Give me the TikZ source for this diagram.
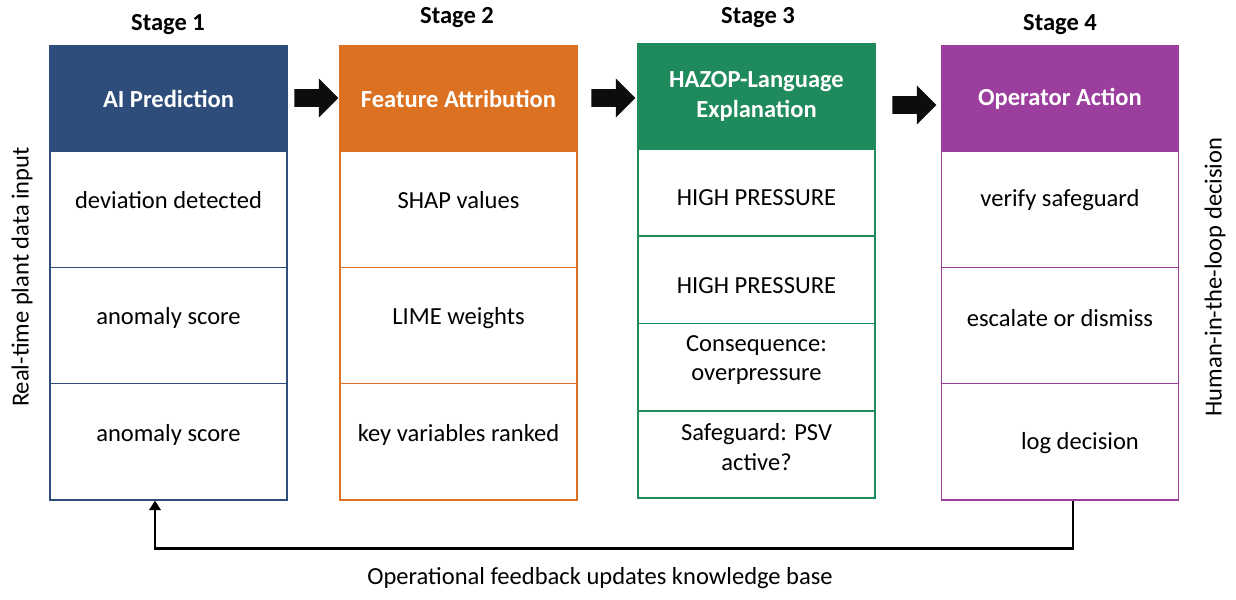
\documentclass[tikz,border=0pt]{standalone}
\usepackage{fontspec}
\setmainfont{Carlito}
\usetikzlibrary{shapes.arrows,arrows.meta}
\definecolor{predblue}{HTML}{2E4D7B}
\definecolor{attrorange}{HTML}{DD7122}
\definecolor{hazopgreen}{HTML}{1F8A5B}
\definecolor{actpurple}{HTML}{9B3E9E}

\begin{document}
\begin{tikzpicture}[x=0.75pt, y=-0.75pt, font=\fontsize{18.4}{22}\selectfont,
  head/.style={draw=#1, fill=#1, text=white, font=\fontsize{18.4}{22}\selectfont\bfseries,
    align=center, inner sep=0pt, line width=1.1pt, minimum width=177.75pt, minimum height=78.75pt},
  cell/.style={draw=#1, inner sep=0pt, line width=1.1pt, minimum width=177.75pt, minimum height=87.2pt},
  cellthin/.style={cell=#1, minimum height=65.4pt},
  stagelabel/.style={font=\fontsize{18.4}{22}\selectfont\bfseries},
  blockarrow/.style={single arrow, fill=black!95, inner sep=0pt, inner ysep=6.5pt,
    single arrow head extend=8pt, minimum height=33pt},
  fb/.style={line width=2.2pt, -{Triangle[width=8.5pt,length=7pt]}}]
\useasboundingbox (0,0) rectangle (1236,600);

% stage titles
\node[stagelabel] (t1) at (168,25) {Stage 1};
\node[stagelabel] (t2) at (457,18) {Stage 2};
\node[stagelabel] (t3) at (758,18) {Stage 3};
\node[stagelabel] (t4) at (1060,25) {Stage 4};

% stage 1: prediction
\node[cell=predblue] (s1r1) at (168.5,209.2) {};
\node[cell=predblue] (s1r2) at (168.5,325.5) {};
\node[cell=predblue] (s1r3) at (168.5,441.8) {};
\node[head=predblue] (h1) at (168.5,98.5) {AI Prediction};
\node at (168.5,200) {deviation detected};
\node at (168.5,318) {anomaly score};
\node at (168.5,435) {anomaly score};

% stage 2: attribution
\node[cell=attrorange] (s2r1) at (458.5,209.2) {};
\node[cell=attrorange] (s2r2) at (458.5,325.5) {};
\node[cell=attrorange] (s2r3) at (458.5,441.8) {};
\node[head=attrorange] (h2) at (458.5,98.5) {Feature Attribution};
\node at (458.5,200) {SHAP values};
\node at (458.5,318) {LIME weights};
\node at (458.5,435) {key variables ranked};

% stage 3: explanation
\node[cellthin=hazopgreen] (s3r1) at (756.5,192.6) {};
\node[cellthin=hazopgreen] (s3r2) at (756.5,279.9) {};
\node[cellthin=hazopgreen] (s3r3) at (756.5,367.1) {};
\node[cellthin=hazopgreen] (s3r4) at (756.5,454.4) {};
\node[head=hazopgreen] (h3) at (756.5,96.5) {HAZOP-Language\\Explanation};
\node at (756.5,198) {HIGH PRESSURE};
\node at (756.5,286) {HIGH PRESSURE};
\node[align=center] at (756.5,360) {Consequence:\\overpressure};
\node[align=center] at (756.5,447) {Safeguard: PSV\\active?};

% stage 4: operator
\node[cell=actpurple] (s4r1) at (1060,209.2) {};
\node[cell=actpurple] (s4r2) at (1060,325.5) {};
\node[cell=actpurple] (s4r3) at (1060,441.8) {};
\node[head=actpurple] (h4) at (1060,98.5) {Operator Action};
\node at (1060,200) {verify safeguard};
\node at (1060,318) {escalate or dismiss};
\node at (1080,443) {log decision};

% block arrows between stages
\node[blockarrow] (a12) at (312,98) {};
\node[blockarrow] (a23) at (609,98) {};
\node[blockarrow] (a34) at (910,105) {};

% side labels
\node[rotate=90] (inlabel) at (22,277) {Real-time plant data input};
\node[rotate=90] (outlabel) at (1215,277) {Human-in-the-loop decision};

% feedback loop
\coordinate (fbout) at (1073,0);
\coordinate (fbin) at (155,0);
\draw[fb] (s4r3.south -| fbout) -- ++(0,48) -| (s1r3.south -| fbin);
\node (fblabel) at (600,578) {Operational feedback updates knowledge base};
\end{tikzpicture}
\end{document}
